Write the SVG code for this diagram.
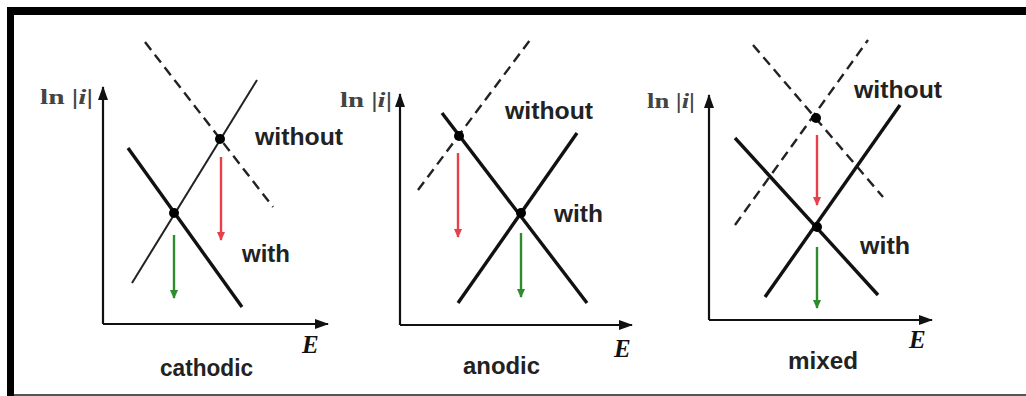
<svg xmlns="http://www.w3.org/2000/svg" width="1026" height="396" viewBox="0 0 1026 396">
<style>
.lbl{font-family:"Liberation Sans",Arial,sans-serif;font-weight:bold;font-size:23px;fill:#222}
.ax{font-family:"Liberation Serif","Times New Roman",serif;font-weight:bold;font-style:italic;font-size:25px;fill:#111}
.yl{font-family:"Liberation Serif","Times New Roman",serif;font-weight:bold;font-size:20px;fill:#444}
.axis{stroke:#111;stroke-width:2.2;fill:none}
.thick{stroke:#111;stroke-width:3.4;fill:none}
.thin{stroke:#222;stroke-width:2;fill:none}
.dash{stroke:#222;stroke-width:2.4;fill:none;stroke-dasharray:10 6}
.red{stroke:#e8404a;stroke-width:2.4;fill:none;marker-end:url(#ar)}
.green{stroke:#2e8b2e;stroke-width:2.4;fill:none;marker-end:url(#ag)}
</style>
<defs>
<marker id="ax" viewBox="0 0 14 10" refX="13" refY="5" markerWidth="14" markerHeight="10" markerUnits="userSpaceOnUse" orient="auto"><path d="M0,0 L14,5 L0,10 Z" fill="#111"/></marker>
<marker id="ar" viewBox="0 0 9 8" refX="8" refY="4" markerWidth="9" markerHeight="8" markerUnits="userSpaceOnUse" orient="auto"><path d="M0,0 L9,4 L0,8 Z" fill="#e8404a"/></marker>
<marker id="ag" viewBox="0 0 9 8" refX="8" refY="4" markerWidth="9" markerHeight="8" markerUnits="userSpaceOnUse" orient="auto"><path d="M0,0 L9,4 L0,8 Z" fill="#2e8b2e"/></marker>
</defs>
<rect width="1026" height="396" fill="#fff"/>
<g id="frame">
<rect x="7" y="7" width="1019" height="8" fill="#000"/>
<rect x="7" y="7" width="7" height="389" fill="#000"/>
<rect x="14" y="394" width="1012" height="2" fill="#555"/>
</g>
<g id="connectors">
<line class="axis" x1="103" y1="324" x2="103" y2="87" marker-end="url(#ax)"/>
<line class="axis" x1="103" y1="324" x2="328" y2="324" marker-end="url(#ax)"/>
<line class="dash" x1="145" y1="42" x2="273" y2="207"/>
<line class="thin" x1="132" y1="283" x2="257" y2="80"/>
<line class="thick" x1="128" y1="148" x2="242" y2="307"/>
<line class="red" x1="221" y1="157" x2="221" y2="240"/>
<line class="green" x1="174" y1="235" x2="174" y2="298"/>
<line class="axis" x1="400" y1="325" x2="400" y2="94" marker-end="url(#ax)"/>
<line class="axis" x1="400" y1="325" x2="632" y2="325" marker-end="url(#ax)"/>
<line class="dash" x1="418" y1="190" x2="530" y2="40"/>
<line class="thick" x1="442" y1="113" x2="587" y2="303"/>
<line class="thick" x1="458" y1="303" x2="577" y2="133"/>
<line class="red" x1="458" y1="153" x2="458" y2="237"/>
<line class="green" x1="521" y1="233" x2="521" y2="297"/>
<line class="axis" x1="709" y1="320" x2="709" y2="95" marker-end="url(#ax)"/>
<line class="axis" x1="709" y1="320" x2="932" y2="320" marker-end="url(#ax)"/>
<line class="dash" x1="753" y1="45" x2="883" y2="197"/>
<line class="dash" x1="735" y1="225" x2="868" y2="40"/>
<line class="thick" x1="735" y1="138" x2="878" y2="295"/>
<line class="thick" x1="765" y1="297" x2="900" y2="105"/>
<line class="red" x1="817" y1="135" x2="817" y2="205"/>
<line class="green" x1="817" y1="247" x2="817" y2="308"/>
</g>
<g id="cathodic">
<circle cx="220" cy="139" r="5" fill="#000"/>
<circle cx="174" cy="213" r="5" fill="#000"/>
<text class="yl" x="40" y="104" textLength="53" lengthAdjust="spacingAndGlyphs">ln |<tspan font-style="italic">i</tspan>|</text>
<text class="lbl" x="255" y="145" textLength="88" lengthAdjust="spacingAndGlyphs">without</text>
<text class="lbl" x="242" y="262" textLength="48" lengthAdjust="spacingAndGlyphs">with</text>
<text class="lbl" x="160" y="376" textLength="93" lengthAdjust="spacingAndGlyphs">cathodic</text>
<text class="ax" x="302" y="353">E</text>
</g>
<g id="anodic">
<circle cx="459" cy="136" r="5" fill="#000"/>
<circle cx="521" cy="213" r="5" fill="#000"/>
<text class="yl" x="340" y="107" textLength="52" lengthAdjust="spacingAndGlyphs">ln |<tspan font-style="italic">i</tspan>|</text>
<text class="lbl" x="505" y="119" textLength="88" lengthAdjust="spacingAndGlyphs">without</text>
<text class="lbl" x="554" y="222" textLength="49" lengthAdjust="spacingAndGlyphs">with</text>
<text class="lbl" x="463" y="374" textLength="77" lengthAdjust="spacingAndGlyphs">anodic</text>
<text class="ax" x="614" y="357">E</text>
</g>
<g id="mixed">
<circle cx="816" cy="118" r="5" fill="#000"/>
<circle cx="817" cy="227" r="5" fill="#000"/>
<text class="yl" x="647" y="108" textLength="48" lengthAdjust="spacingAndGlyphs">ln |<tspan font-style="italic">i</tspan>|</text>
<text class="lbl" x="854" y="98" textLength="88" lengthAdjust="spacingAndGlyphs">without</text>
<text class="lbl" x="860" y="254" textLength="50" lengthAdjust="spacingAndGlyphs">with</text>
<text class="lbl" x="788" y="369" textLength="70" lengthAdjust="spacingAndGlyphs">mixed</text>
<text class="ax" x="909" y="348">E</text>
</g>
</svg>
